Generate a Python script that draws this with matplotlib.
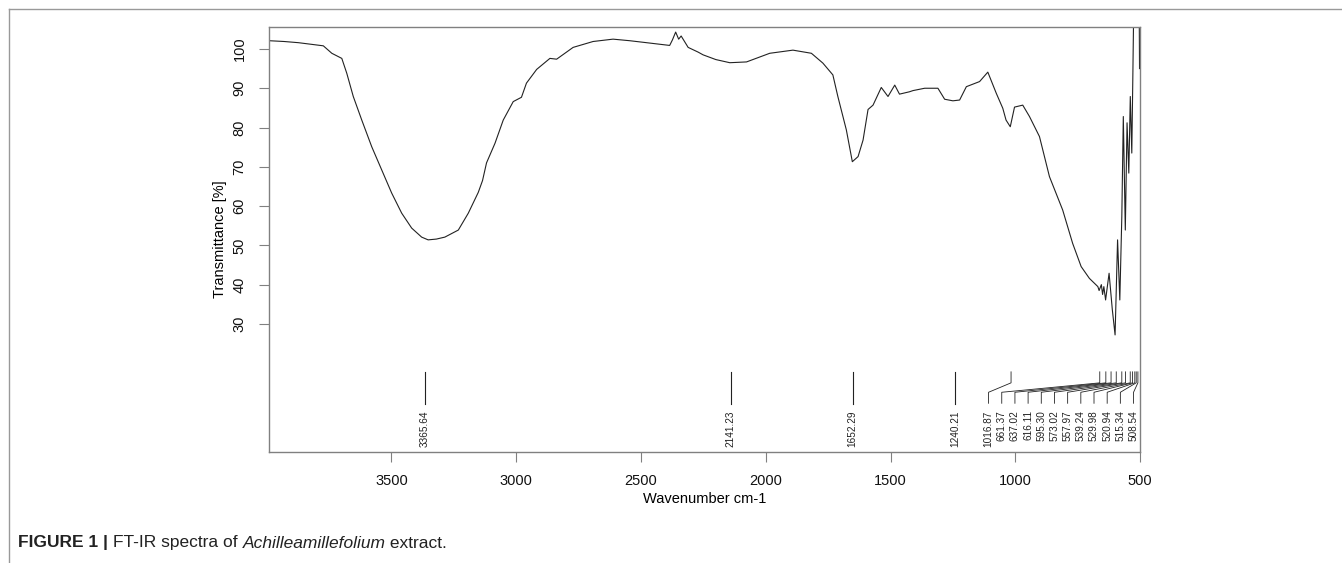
import matplotlib.pyplot as plt
import numpy as np
from matplotlib.lines import Line2D

plt.rcParams['font.family'] = ['Liberation Sans', 'DejaVu Sans']

# spectrum (wavenumber cm-1, transmittance %)
wavenumber = [3990, 3930, 3873, 3773, 3739, 3699, 3679, 3653, 3619, 3579,
              3539, 3499, 3459, 3419, 3379, 3353, 3320, 3286, 3232, 3192,
              3152, 3135, 3119, 3085, 3052, 3012, 2979, 2959, 2918, 2865,
              2838, 2772, 2692, 2612, 2545, 2478, 2385, 2374, 2361, 2349,
              2339, 2311, 2271, 2251, 2200, 2144, 2077, 1984, 1891, 1817,
              1771, 1731, 1711, 1677, 1653, 1630, 1610, 1590, 1570, 1537,
              1510, 1483, 1464, 1424, 1410, 1363, 1310, 1283, 1250, 1223,
              1196, 1143, 1110, 1076, 1050, 1037, 1020, 1003, 970, 943,
              903, 863, 810, 770, 736, 703, 669, 664, 655, 650,
              645, 638, 624, 611, 600, 590, 581, 573, 567, 559,
              552, 545, 539, 533, 529, 526, 512, 503, 502]
transmittance = [102.1, 101.9, 101.6, 100.8, 98.9, 97.6, 93.8, 87.9, 81.9, 75.1,
                 69.2, 63.3, 58.2, 54.4, 52.1, 51.4, 51.6, 52.1, 53.9, 58.2,
                 63.5, 66.5, 71.0, 76.0, 81.9, 86.6, 87.7, 91.3, 94.8, 97.6,
                 97.4, 100.4, 101.9, 102.5, 102.1, 101.6, 100.9, 102.3, 104.3, 102.5,
                 103.3, 100.4, 99.2, 98.5, 97.3, 96.5, 96.7, 98.9, 99.7, 98.9,
                 96.4, 93.4, 87.9, 79.4, 71.3, 72.6, 76.8, 84.6, 85.7, 90.2,
                 87.9, 90.8, 88.5, 89.1, 89.4, 90.0, 90.0, 87.2, 86.8, 87.0,
                 90.4, 91.7, 94.1, 88.7, 84.9, 81.9, 80.2, 85.2, 85.7, 82.8,
                 77.7, 67.5, 59.0, 50.5, 44.6, 41.6, 39.5, 38.5, 40.0, 37.5,
                 39.5, 36.1, 42.9, 33.6, 27.2, 51.4, 36.1, 57.3, 82.8, 53.9,
                 81.2, 68.4, 87.9, 73.5, 92.1, 107.0, 110.0, 107.0, 95.0]

# annotated peaks
single_peaks = ["3365.64", "2141.23", "1652.29", "1240.21"]
crowded_peaks = ["1016.87", "661.37", "637.02", "616.11", "595.30", "573.02",
                 "557.97", "539.24", "529.98", "520.94", "515.34", "508.54"]

x_ticks = [3500, 3000, 2500, 2000, 1500, 1000, 500]
y_ticks = [30, 40, 50, 60, 70, 80, 90, 100]

fig = plt.figure(figsize=(13.42, 5.63), dpi=100)
ax = fig.add_axes([0.2004, 0.1972, 0.6491, 0.7549])

ax.plot(wavenumber, transmittance, color="#222222", lw=0.8)

ax.set_xlim(3991, 502)
ax.set_ylim(-2.6, 105.6)

grey = "#808080"
for s in ax.spines.values():
    s.set_color(grey)
    s.set_linewidth(1.0)

ax.set_xticks(x_ticks)
ax.set_yticks(y_ticks)
ax.set_yticklabels([str(t) for t in y_ticks], rotation=90, va="center")
ax.tick_params(axis="both", direction="out", length=7, width=0.8, color=grey,
               labelsize=10.5, labelcolor="#111111")
ax.tick_params(axis="x", pad=9)
ax.tick_params(axis="y", pad=9)

ax.set_xlabel("Wavenumber cm-1", fontsize=10.5, labelpad=3)
ax.set_ylabel("Transmittance [%]", fontsize=10.5, labelpad=4)

# peak markers: isolated peaks get a straight line
lab_kw = dict(rotation=90, ha="center", va="top", fontsize=7.2, color="#222222")
top, knee, low, bottom = 17.8, 15.0, 12.6, 9.8
for p in single_peaks:
    w = float(p)
    ax.plot([w, w], [top, 9.6], color="#222222", lw=0.8)
    ax.text(w, 8.0, p, **lab_kw)

# crowded peaks fan out to evenly spaced labels
label_pos = np.linspace(1107, 526, len(crowded_peaks))
for p, lx in zip(crowded_peaks, label_pos):
    w = float(p)
    ax.plot([w, w, lx, lx], [top, knee, low, bottom], color="#222222", lw=0.6)
    ax.text(lx, 8.0, p, **lab_kw)

# outer figure frame
fig.add_artist(Line2D([9 / 1342, 1], [1 - 9 / 563, 1 - 9 / 563],
                      color="#999999", lw=1.0))
fig.add_artist(Line2D([9 / 1342, 9 / 1342], [0, 1 - 9 / 563],
                      color="#999999", lw=1.0))

# caption, written piece by piece so each part keeps its own style
cap_parts = [("FIGURE 1 | ", dict(fontweight="bold")),
             ("FT-IR spectra of ", {}),
             ("Achilleamillefolium", dict(fontstyle="italic")),
             (" extract.", {})]
renderer = fig.canvas.get_renderer()
x_px = 18
for txt, style in cap_parts:
    t = fig.text(x_px / 1342, 1 - 543 / 563, txt, fontsize=12.5, va="center",
                 ha="left", color="#222222", **style)
    x_px += t.get_window_extent(renderer).width

fig.savefig("out.png", dpi=100)
